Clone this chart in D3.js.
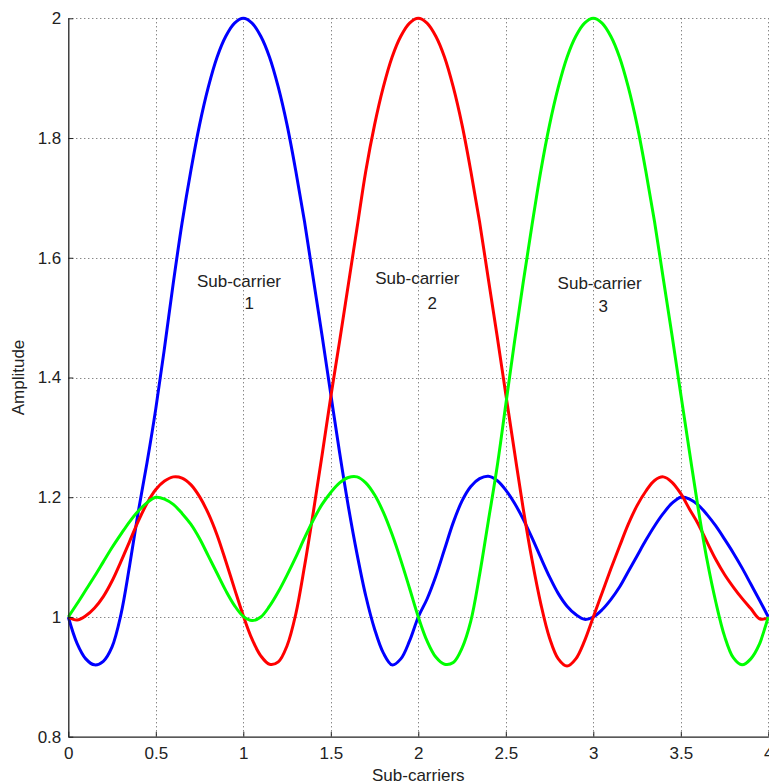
<!DOCTYPE html>
<html>
<head>
<meta charset="utf-8">
<script src="https://cdn.jsdelivr.net/npm/d3@7"></script>
<style>
  html, body { margin: 0; padding: 0; background: #fff; }
  svg { display: block; }
  text { font-family: "Liberation Sans", Arial, Helvetica, sans-serif; }
</style>
</head>
<body>
<svg id="chart" width="769" height="784"></svg>
<script>
// ---------------- data ----------------
const xValues = [
  0.00,0.05,0.10,0.15,0.20,0.25,0.30,0.35,0.40,0.45,
  0.50,0.55,0.60,0.65,0.70,0.75,0.80,0.85,0.90,0.95,
  1.00,1.05,1.10,1.15,1.20,1.25,1.30,1.35,1.40,1.45,
  1.50,1.55,1.60,1.65,1.70,1.75,1.80,1.85,1.90,1.95,
  2.00,2.05,2.10,2.15,2.20,2.25,2.30,2.35,2.40,2.45,
  2.50,2.55,2.60,2.65,2.70,2.75,2.80,2.85,2.90,2.95,
  3.00,3.05,3.10,3.15,3.20,3.25,3.30,3.35,3.40,3.45,
  3.50,3.55,3.60,3.65,3.70,3.75,3.80,3.85,3.90,3.95,
  4.00
];
const subCarrier1 = [
  1.000,0.956,0.930,0.920,0.926,0.950,1.003,1.085,1.176,1.258,
  1.348,1.450,1.558,1.658,1.745,1.822,1.885,1.935,1.970,1.992,
  2.000,1.992,1.970,1.935,1.885,1.822,1.745,1.660,1.565,1.470,
  1.372,1.275,1.185,1.105,1.035,0.980,0.940,0.920,0.930,0.960,
  1.000,1.030,1.068,1.113,1.158,1.194,1.218,1.231,1.235,1.228,
  1.212,1.190,1.163,1.132,1.099,1.067,1.039,1.018,1.004,0.996,
  1.000,1.012,1.029,1.050,1.076,1.102,1.128,1.152,1.173,1.190,
  1.200,1.197,1.187,1.171,1.152,1.130,1.107,1.082,1.055,1.028,
  1.000
];
const subCarrier2 = [
  1.000,0.995,1.002,1.015,1.034,1.060,1.092,1.126,1.160,1.190,
  1.213,1.227,1.234,1.232,1.221,1.201,1.173,1.137,1.093,1.047,
  1.002,0.963,0.935,0.921,0.925,0.952,1.005,1.085,1.175,1.270,
  1.368,1.460,1.555,1.650,1.745,1.822,1.885,1.935,1.970,1.992,
  2.000,1.992,1.970,1.935,1.885,1.822,1.745,1.660,1.565,1.470,
  1.372,1.275,1.180,1.095,1.022,0.965,0.930,0.918,0.930,0.960,
  1.000,1.040,1.080,1.118,1.155,1.186,1.210,1.228,1.234,1.225,
  1.206,1.180,1.155,1.125,1.096,1.071,1.050,1.031,1.014,0.997,
  0.998
];
const subCarrier3 = [
  1.000,1.022,1.045,1.068,1.092,1.116,1.138,1.159,1.177,1.191,
  1.200,1.197,1.188,1.173,1.155,1.131,1.102,1.073,1.044,1.019,
  1.001,0.994,1.000,1.018,1.042,1.070,1.100,1.132,1.162,1.188,
  1.208,1.224,1.233,1.234,1.224,1.204,1.175,1.138,1.095,1.048,
  1.000,0.960,0.933,0.921,0.924,0.948,0.993,1.070,1.160,1.250,
  1.355,1.460,1.560,1.655,1.745,1.822,1.885,1.935,1.970,1.992,
  2.000,1.992,1.970,1.935,1.885,1.822,1.745,1.660,1.565,1.470,
  1.372,1.275,1.180,1.095,1.025,0.968,0.932,0.920,0.930,0.955,
  1.000
];
const seriesNames  = ["Sub-carrier 1", "Sub-carrier 2", "Sub-carrier 3"];
const seriesColors = ["#0000ff", "#ff0000", "#00ff00"];

const xTicks = [0, 0.5, 1, 1.5, 2, 2.5, 3, 3.5, 4];
const xTickLabels = ["0", "0.5", "1", "1.5", "2", "2.5", "3", "3.5", "4"];
const yTicks = [0.8, 1, 1.2, 1.4, 1.6, 1.8, 2];
const yTickLabels = ["0.8", "1", "1.2", "1.4", "1.6", "1.8", "2"];

const xLabel = "Sub-carriers";
const yLabel = "Amplitude";

// annotations (data units)
const annotTitle = ["Sub-carrier", "Sub-carrier", "Sub-carrier"];
const annotNumber = ["1", "2", "3"];
const annotX1 = [0.735, 1.754, 2.796];
const annotY1 = [1.552, 1.556, 1.547];
const annotX2 = [1.034, 2.080, 3.057];
const annotY2 = [1.514, 1.515, 1.509];

// ---------------- drawing ----------------
const svg = d3.select("#chart");
const x = d3.scaleLinear().domain([0, 4]).range([68.3, 768.3]);
const y = d3.scaleLinear().domain([0.8, 2]).range([736.7, 18.3]);

// grid
const grid = svg.append("g").attr("stroke", "#555").attr("stroke-width", 1)
  .attr("stroke-dasharray", "1,3").attr("fill", "none");
grid.selectAll("line.v").data(xTicks.filter(d => d > 0)).join("line")
  .attr("class", "v")
  .attr("x1", d => Math.round(x(d)) + 0.5).attr("x2", d => Math.round(x(d)) + 0.5)
  .attr("y1", y(2)).attr("y2", y(0.8));
grid.selectAll("line.h").data(yTicks.filter(d => d > 0.8)).join("line")
  .attr("class", "h")
  .attr("y1", d => Math.round(y(d)) + 0.5).attr("y2", d => Math.round(y(d)) + 0.5)
  .attr("x1", x(0)).attr("x2", x(4));

// series
const series = [subCarrier1, subCarrier2, subCarrier3];
const line = d3.line()
  .x((d, i) => x(xValues[i]))
  .y(d => y(d))
  .curve(d3.curveCatmullRom.alpha(0.5));
svg.append("g").selectAll("path").data(series).join("path")
  .attr("fill", "none")
  .attr("stroke", (d, i) => seriesColors[i])
  .attr("stroke-width", 3)
  .attr("stroke-linejoin", "round")
  .attr("d", d => line(d));

// axes
const xAxis = d3.axisBottom(x).tickValues(xTicks)
  .tickFormat((d, i) => xTickLabels[i])
  .tickSizeInner(-5).tickSizeOuter(0).tickPadding(10);
const yAxis = d3.axisLeft(y).tickValues(yTicks)
  .tickFormat((d, i) => yTickLabels[i])
  .tickSizeInner(-5).tickSizeOuter(0).tickPadding(7);

const gx = svg.append("g").attr("transform", `translate(0,${y(0.8)})`).call(xAxis);
const gy = svg.append("g").attr("transform", `translate(${x(0)},0)`).call(yAxis);
[gx, gy].forEach(g => {
  g.select(".domain").attr("stroke", "#222").attr("stroke-width", 1.3);
  g.selectAll(".tick line").attr("stroke", "#222");
  g.selectAll(".tick text").attr("fill", "#222").attr("font-size", 17)
    .attr("font-family", '"Liberation Sans", Arial, sans-serif');
});

// axis titles
svg.append("text")
  .attr("x", (x(0) + x(4)) / 2).attr("y", 781)
  .attr("text-anchor", "middle").attr("font-size", 17).attr("fill", "#222")
  .text(xLabel);
svg.append("text")
  .attr("transform", `translate(24,${(y(0.8) + y(2)) / 2}) rotate(-90)`)
  .attr("text-anchor", "middle").attr("font-size", 17).attr("fill", "#222")
  .text(yLabel);

// annotations
const ann = svg.append("g").attr("font-size", 17).attr("fill", "#222");
annotTitle.forEach((t, i) => {
  ann.append("text").attr("x", x(annotX1[i])).attr("y", y(annotY1[i])).text(t);
  ann.append("text").attr("x", x(annotX2[i])).attr("y", y(annotY2[i]))
    .attr("text-anchor", "middle").text(annotNumber[i]);
});
</script>
</body>
</html>
